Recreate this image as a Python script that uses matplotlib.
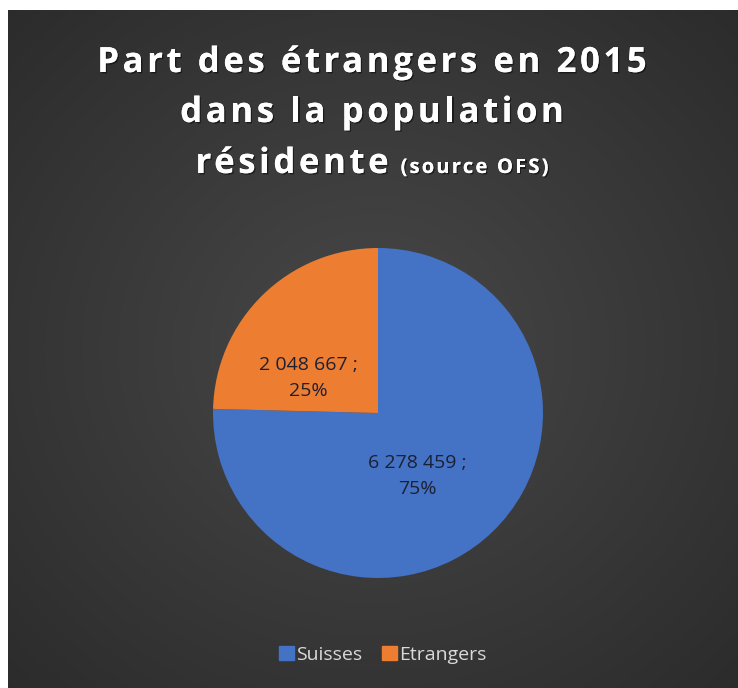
import numpy as np
import matplotlib.pyplot as plt
import matplotlib.patheffects as pe

labels = ["Suisses", "Etrangers"]
values = [6278459, 2048667]
colors = ["#4472C4", "#ED7D31"]

title_lines = ["Part des étrangers en 2015", "dans la population", "résidente"]
title_note = "(source OFS)"

W, H = 738, 688
fig = plt.figure(figsize=(W / 100, H / 100), dpi=100)
fig.patch.set_facecolor("white")

# dark background with a soft radial glow (white strip left and top)
bg = fig.add_axes([8 / W, 0, 1 - 8 / W, 1 - 10 / H])
bg.set_axis_off()
yy, xx = np.mgrid[0:1:300j, 0:1:300j]
r = np.sqrt((xx - 0.5) ** 2 + (yy - 0.5) ** 2)
shade = np.clip(1 - r / 0.75, 0, 1)
img = np.zeros((300, 300, 3))
lo, hi = np.array([0x2a, 0x2a, 0x2a]) / 255, np.array([0x48, 0x48, 0x48]) / 255
for k in range(3):
    img[..., k] = lo[k] + (hi[k] - lo[k]) * shade
bg.imshow(img, extent=[0, 1, 0, 1], aspect="auto", origin="upper")


def fmt(pct):
    v = min(values, key=lambda x: abs(x - pct / 100 * sum(values)))
    s = f"{v:,}".replace(",", " ")
    return f"{s} ;\n{pct:.0f}%"


ax = fig.add_axes([213 / W, 1 - 578 / H, 330 / W, 330 / H])
wedges, texts, autotexts = ax.pie(values, colors=colors, startangle=90, counterclock=False,
                                  autopct=fmt, pctdistance=0.5, radius=1,
                                  textprops=dict(color="#1c2033", fontsize=14, family="Open Sans",
                                                 linespacing=1.55))
ax.set_xlim(-1, 1)
ax.set_ylim(-1, 1)
ax.set_axis_off()
# Excel-like label placement
autotexts[0].set_position((0.24, -0.38))
autotexts[1].set_position((-0.42, 0.21))

# letter-spaced title
renderer = fig.canvas.get_renderer()
tf = dict(color="white", fontweight="bold", family="Open Sans")
shadow = [pe.withSimplePatchShadow(offset=(1, -1), shadow_rgbFace="black", alpha=0.5), pe.Normal()]


def width(s, size):
    t = fig.text(0, 0, s, fontsize=size, **tf)
    w = t.get_window_extent(renderer).width
    t.remove()
    return w


def total(s, size, sp):
    return width(s, size) + (len(s) - 1) * sp


def spaced(x0, ybase, s, size, sp):
    for i, ch in enumerate(s):
        if ch == " ":
            continue
        x = x0 + width(s[:i + 1], size) - width(ch, size) + i * sp
        fig.text(x / W, 1 - ybase / H, ch, fontsize=size, va="baseline", ha="left",
                 path_effects=shadow, **tf)


size, sp = 25, 3.6
cx = 372
for line, yb in zip(title_lines[:2], [72, 122]):
    spaced(cx - total(line, size, sp) / 2, yb, line, size, sp)
w3 = total(title_lines[2], size, sp)
w4 = total(title_note, 14.5, 2.2)
x3 = cx - (w3 + 12 + w4) / 2
spaced(x3, 173, title_lines[2], size, sp)
spaced(x3 + w3 + 12, 173, title_note, 14.5, 2.2)

handles = [plt.Rectangle((0, 0), 1, 1, color=c) for c in colors]
fig.legend(handles, labels, loc="center", bbox_to_anchor=(383 / W, 1 - 655 / H), ncol=2,
           frameon=False, handlelength=0.75, handleheight=0.75, handletextpad=0.15,
           columnspacing=1.0, prop=dict(family="Open Sans", size=14), labelcolor="#d9d9d9")

fig.savefig("out.png", dpi=100, facecolor=fig.get_facecolor())
